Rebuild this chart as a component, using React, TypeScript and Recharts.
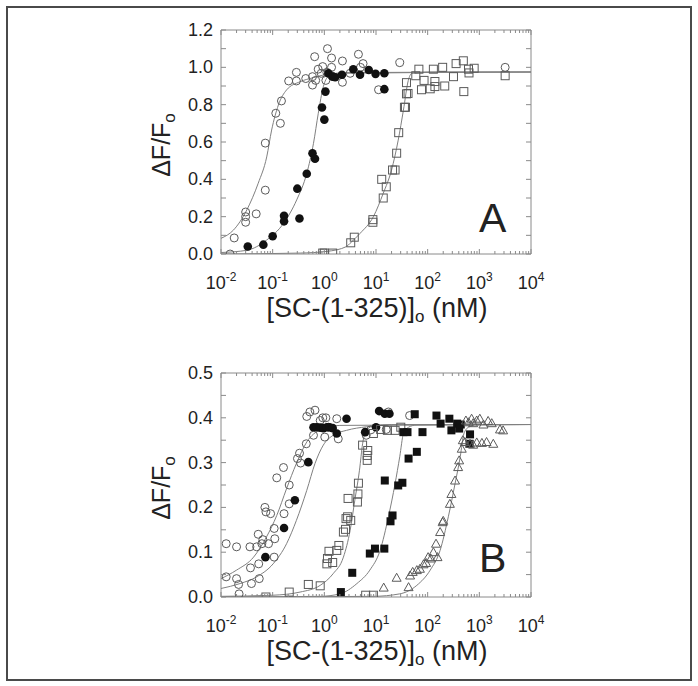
import { ComposedChart, Line, Scatter, XAxis, YAxis, ReferenceArea } from 'recharts'

// x values in nM, y values as ΔF/Fo
const decades = [0.01, 0.1, 1, 10, 100, 1000, 10000]
const exponents = ['-2', '-1', '0', '1', '2', '3', '4']
const minorSteps = [2, 3, 4, 5, 6, 7, 8, 9]
const yTicksA = [0, 0.1, 0.2, 0.3, 0.4, 0.5, 0.6, 0.7, 0.8, 0.9, 1.0, 1.1, 1.2]
const yTicksB = [0, 0.05, 0.1, 0.15, 0.2, 0.25, 0.3, 0.35, 0.4, 0.45, 0.5]

// panel A
const aOpenCircles: [number, number][] = [
  [0.015, 0.0], [0.018, 0.086], [0.03, 0.225], [0.03, 0.2], [0.03, 0.17], [0.048, 0.215],
  [0.072, 0.594], [0.072, 0.342], [0.115, 0.754], [0.141, 0.7], [0.148, 0.82], [0.204, 0.927],
  [0.288, 0.973], [0.288, 0.927], [0.437, 0.94], [0.59, 0.95], [0.65, 1.057], [0.59, 0.905],
  [0.68, 0.93], [0.76, 0.99], [0.93, 1.004], [1.12, 0.973], [0.87, 0.968], [1.15, 1.1],
  [1.38, 1.05], [1.38, 1.0], [1.07, 0.93], [2.24, 1.034], [2.24, 0.92], [1.38, 0.955],
  [4.57, 1.07], [5.62, 1.02], [3.16, 0.968], [5.0, 1.0], [11.2, 0.88], [28.8, 1.025], [3160, 1.0],
]
const aFilledCircles: [number, number][] = [
  [0.033, 0.04], [0.066, 0.05], [0.1, 0.095], [0.166, 0.205], [0.166, 0.175], [0.3, 0.35],
  [0.33, 0.19], [0.457, 0.43], [0.59, 0.54], [0.66, 0.51], [0.9, 0.785], [1.0, 0.72],
  [1.05, 0.87], [1.2, 0.968], [1.45, 0.95], [1.62, 0.947], [2.19, 0.96], [3.63, 0.99],
  [4.9, 0.96], [7.24, 0.986], [9.8, 0.965], [14.5, 0.968], [14.5, 0.883],
]
const aOpenSquares: [number, number][] = [
  [0.93, 0.005], [1.0, 0.005], [1.45, 0.005], [3.24, 0.06], [3.8, 0.09], [8.7, 0.184],
  [8.7, 0.17], [12.9, 0.4], [13.8, 0.3], [15.8, 0.36], [20.9, 0.45], [23.4, 0.45],
  [25.1, 0.54], [27.5, 0.65], [35.5, 0.786], [37.2, 0.786], [38.9, 0.858], [41.7, 0.86],
  [38.9, 0.918], [58.9, 0.955], [67.6, 0.99], [75.9, 0.88], [85.1, 0.93], [112, 0.885],
  [138, 0.897], [138, 0.924], [129, 0.99], [214, 0.9], [195, 1.0], [316, 0.95], [355, 1.02],
  [501, 0.87], [490, 1.035], [617, 0.99], [631, 0.97], [794, 0.995], [3160, 0.955],
]
const aFitOpen: [number, number][] = [
  [0.01, 0.084], [0.0174, 0.128], [0.0316, 0.236], [0.0525, 0.379], [0.0767, 0.52],
  [0.0955, 0.664], [0.129, 0.798], [0.186, 0.879], [0.339, 0.923], [0.617, 0.945],
  [1.0, 0.96], [3.16, 0.972], [10000, 0.975],
]
const aFitFilled: [number, number][] = [
  [0.01, 0.008], [0.0316, 0.02], [0.0767, 0.075], [0.162, 0.164], [0.292, 0.29],
  [0.457, 0.432], [0.617, 0.593], [0.764, 0.754], [0.955, 0.896], [1.19, 0.95],
  [2.0, 0.968], [10000, 0.975],
]
const aFitSquares: [number, number][] = [
  [0.01, 0.0], [0.34, 0.005], [1.12, 0.014], [2.69, 0.04], [3.14, 0.057], [4.9, 0.11],
  [8.9, 0.2], [13.8, 0.325], [20, 0.45], [26.9, 0.61], [33.9, 0.77], [42.2, 0.93],
  [49, 0.967], [100, 0.975], [10000, 0.975],
]

// panel B
const bOpenCircles: [number, number][] = [
  [0.0126, 0.119], [0.0126, 0.045], [0.02, 0.112], [0.02, 0.041], [0.0219, 0.028], [0.0224, 0.007],
  [0.0363, 0.112], [0.0372, 0.065], [0.0389, 0.03], [0.049, 0.112], [0.0525, 0.14], [0.0537, 0.074],
  [0.055, 0.041], [0.0617, 0.119], [0.0646, 0.128], [0.0708, 0.2], [0.0741, 0.19], [0.0832, 0.119],
  [0.0912, 0.186], [0.107, 0.153], [0.107, 0.089], [0.11, 0.13], [0.12, 0.266], [0.162, 0.289],
  [0.166, 0.186], [0.209, 0.208], [0.209, 0.25], [0.302, 0.309], [0.331, 0.321], [0.347, 0.299],
  [0.447, 0.342], [0.457, 0.403], [0.525, 0.413], [0.66, 0.417], [0.617, 0.361], [0.832, 0.394],
  [0.933, 0.4], [1.02, 0.357], [1.07, 0.4], [1.74, 0.398], [1.86, 0.353], [1.2, 0.379],
  [6.46, 0.361], [7.94, 0.373], [15.8, 0.374], [44.7, 0.405], [17.4, 0.413],
]
const bFilledCircles: [number, number][] = [
  [0.0724, 0.089], [0.166, 0.154], [0.269, 0.216], [0.49, 0.301], [0.617, 0.379], [0.708, 0.379],
  [0.832, 0.378], [0.955, 0.377], [1.12, 0.379], [1.26, 0.379], [1.45, 0.377], [1.74, 0.365],
  [2.69, 0.398], [6.17, 0.368], [10, 0.379], [11.5, 0.415], [14.8, 0.409], [18.2, 0.409],
]
const bOpenSquares: [number, number][] = [
  [0.074, 0.0], [0.209, 0.011], [0.49, 0.028], [0.832, 0.025], [1.12, 0.074], [1.45, 0.077],
  [1.15, 0.086], [1.23, 0.102], [1.74, 0.104], [1.91, 0.115], [2.34, 0.145], [2.57, 0.151],
  [2.63, 0.175], [2.82, 0.179], [2.88, 0.22], [3.24, 0.171], [4.37, 0.212], [4.47, 0.23],
  [4.57, 0.254], [5.5, 0.339], [6.92, 0.327], [6.76, 0.305], [6.76, 0.316], [8.91, 0.365],
  [12.3, 0.374], [16.6, 0.372], [23.4, 0.372], [30.2, 0.379], [8.91, 0.004], [6.31, 0.004],
]
const bFilledSquares: [number, number][] = [
  [2.09, 0.011], [3.47, 0.054], [7.59, 0.097], [9.55, 0.108], [14.5, 0.108], [14.8, 0.26],
  [19.1, 0.169], [20.9, 0.182], [26.9, 0.249], [32.4, 0.255], [33.9, 0.368], [40.7, 0.368],
  [42.7, 0.309], [61.7, 0.324], [56.2, 0.408], [79.4, 0.368], [148, 0.405], [178, 0.387],
  [263, 0.398], [288, 0.372], [372, 0.387], [407, 0.376], [437, 0.385], [661, 0.363], [646, 0.342],
]
const bOpenTriangles: [number, number][] = [
  [14.1, 0.021], [25.1, 0.043], [42.7, 0.022], [45.7, 0.048], [51.3, 0.056], [61.7, 0.06],
  [70.8, 0.063], [83.2, 0.073], [93.3, 0.076], [102, 0.089], [115, 0.086], [129, 0.1],
  [145, 0.119], [155, 0.089], [174, 0.145], [195, 0.167], [200, 0.17], [269, 0.208],
  [288, 0.23], [339, 0.26], [389, 0.29], [407, 0.305], [457, 0.331], [479, 0.35], [525, 0.346],
  [550, 0.394], [617, 0.39], [708, 0.398], [759, 0.388], [891, 0.394], [1023, 0.398],
  [1202, 0.385], [1479, 0.393], [1738, 0.388], [2884, 0.372], [661, 0.342], [759, 0.34],
  [891, 0.345], [1122, 0.344], [1380, 0.346], [1862, 0.342], [2512, 0.374],
]
const bFitOpen: [number, number][] = [
  [0.01, 0.041], [0.02, 0.06], [0.0427, 0.089], [0.0759, 0.134], [0.12, 0.182], [0.186, 0.242],
  [0.288, 0.298], [0.457, 0.346], [0.832, 0.373], [2.0, 0.383], [10000, 0.385],
]
const bFitFilled: [number, number][] = [
  [0.01, 0.019], [0.0234, 0.03], [0.049, 0.045], [0.102, 0.074], [0.186, 0.119], [0.288, 0.171],
  [0.457, 0.238], [0.66, 0.298], [0.955, 0.339], [1.48, 0.361], [2.69, 0.372], [6.6, 0.38],
  [21.9, 0.384], [10000, 0.385],
]
const bFitSquares: [number, number][] = [
  [0.01, 0.0015], [0.102, 0.004], [0.339, 0.011], [0.832, 0.026], [1.48, 0.052], [2.34, 0.089],
  [3.16, 0.149], [3.89, 0.216], [4.79, 0.283], [5.5, 0.342], [6.6, 0.372], [8.9, 0.382],
  [20, 0.385], [10000, 0.385],
]
const bFitFilledSquares: [number, number][] = [
  [0.01, 0.0], [0.832, 0.0015], [2.0, 0.007], [4.27, 0.03], [7.6, 0.06], [12, 0.104],
  [17.4, 0.179], [23.4, 0.253], [28.8, 0.313], [33.9, 0.364], [42.7, 0.379], [61.7, 0.384],
  [10000, 0.385],
]
const bFitTriangles: [number, number][] = [
  [0.01, 0.0], [8.9, 0.0015], [28.8, 0.007], [61.7, 0.026], [112, 0.06], [174, 0.104],
  [251, 0.179], [339, 0.253], [427, 0.313], [501, 0.364], [617, 0.379], [891, 0.384],
  [10000, 0.385],
]

const W = 698
const CH = 343
const PLOT_W = 310
const PLOT_H = 224
const FONT = '"Liberation Sans", Arial, Helvetica, sans-serif'
const axisColor = '#8a8a8a'
const markStroke = '#5a5a5a'
const curveColor = '#808080'
const textColor = '#222'

const xTicks = [
  ...decades,
  ...decades.slice(0, -1).flatMap((d) => minorSteps.map((m) => +(d * m).toPrecision(3))),
].sort((a, b) => a - b)

const toPts = (arr: [number, number][]) => arr.map(([x, y]) => ({ x, y }))

const OpenCircle = (p: any) => (
  <circle cx={p.cx} cy={p.cy} r={4} fill="none" stroke={markStroke} strokeWidth={1} />
)
const FilledCircle = (p: any) => <circle cx={p.cx} cy={p.cy} r={4.3} fill="#111" />
const OpenSquare = (p: any) => (
  <rect x={p.cx - 4} y={p.cy - 4} width={8} height={8} fill="none" stroke={markStroke} strokeWidth={1} />
)
const FilledSquare = (p: any) => <rect x={p.cx - 4} y={p.cy - 4} width={8} height={8} fill="#111" />
const OpenTriangle = (p: any) => (
  <polygon
    points={`${p.cx},${p.cy - 4.5} ${p.cx - 4.5},${p.cy + 3.5} ${p.cx + 4.5},${p.cy + 3.5}`}
    fill="none"
    stroke={markStroke}
    strokeWidth={1}
  />
)

function BottomTick(props: any) {
  const { x, y, payload } = props
  const i = decades.indexOf(payload.value)
  const len = i >= 0 ? 5 : 3
  return (
    <g>
      <line x1={x} x2={x} y1={y} y2={y - len} stroke={axisColor} />
      <line x1={x} x2={x} y1={y - PLOT_H} y2={y - PLOT_H + len} stroke={axisColor} />
      {i >= 0 && (
        <text x={x} y={y + 35} textAnchor="middle" fontSize={18} fill={textColor} fontFamily={FONT}>
          10
          <tspan dy={-8} fontSize={12}>
            {exponents[i]}
          </tspan>
        </text>
      )}
    </g>
  )
}

function LeftTick(props: any) {
  const { x, y, payload, step } = props
  const v = payload.value
  const major = Math.abs(v / step - Math.round(v / step)) < 1e-6
  return (
    <g>
      <line x1={x} x2={x + 5} y1={y} y2={y} stroke={axisColor} />
      <line x1={x + PLOT_W} x2={x + PLOT_W - 5} y1={y} y2={y} stroke={axisColor} />
      {major && (
        <text x={x - 8} y={y + 6} textAnchor="end" fontSize={18} fill={textColor} fontFamily={FONT}>
          {v.toFixed(1)}
        </text>
      )}
    </g>
  )
}

type Series = { data: [number, number][]; shape: (p: any) => any }

function Panel({
  yMax,
  yTicks,
  labelStep,
  series,
  fits,
}: {
  yMax: number
  yTicks: number[]
  labelStep: number
  series: Series[]
  fits: [number, number][][]
}) {
  return (
    <ComposedChart width={W} height={CH} margin={{ top: 30, right: 167, bottom: 29, left: 161 }}>
      <XAxis
        dataKey="x"
        type="number"
        scale="log"
        domain={[0.01, 10000]}
        allowDataOverflow
        ticks={xTicks}
        interval={0}
        height={60}
        tickSize={0}
        tickMargin={0}
        tickLine={false}
        axisLine={false}
        tick={<BottomTick />}
      />
      <YAxis
        dataKey="y"
        type="number"
        domain={[0, yMax]}
        allowDataOverflow
        ticks={yTicks}
        interval={0}
        width={60}
        tickSize={0}
        tickMargin={0}
        tickLine={false}
        axisLine={false}
        tick={<LeftTick step={labelStep} />}
      />
      <ReferenceArea x1={0.01} x2={10000} y1={0} y2={yMax} fill="none" stroke={axisColor} strokeWidth={1} />
      {fits.map((f, i) => (
        <Line
          key={'f' + i}
          data={toPts(f)}
          dataKey="y"
          type="monotone"
          stroke={curveColor}
          strokeWidth={1}
          dot={false}
          activeDot={false}
          isAnimationActive={false}
        />
      ))}
      {series.map((s, i) => (
        <Scatter key={'s' + i} data={toPts(s.data)} dataKey="y" shape={s.shape} isAnimationActive={false} />
      ))}
    </ComposedChart>
  )
}

function AxisTexts({ top, letter, letterY }: { top: number; letter: string; letterY: number }) {
  return (
    <g fontFamily={FONT} fill={textColor}>
      <text
        transform={`translate(170, ${top + 145}) rotate(-90)`}
        textAnchor="middle"
        fontSize={25}
      >
        ΔF/F
        <tspan fontSize={17} dy={5}>
          o
        </tspan>
      </text>
      <text x={377} y={top + 317} textAnchor="middle" fontSize={27}>
        [SC-(1-325)]
        <tspan fontSize={17} dy={5}>
          o
        </tspan>
        <tspan dy={-5}> (nM)</tspan>
      </text>
      <text x={479} y={top + letterY} fontSize={41}>
        {letter}
      </text>
    </g>
  )
}

export default function App() {
  return (
    <div style={{ position: 'absolute', left: 0, top: 0, width: W, height: 686, background: '#fff' }}>
      <div
        style={{
          position: 'absolute',
          left: 6,
          top: 6,
          width: 686,
          height: 675,
          border: '2px solid #4a4a4a',
          boxSizing: 'border-box',
        }}
      />
      <div style={{ position: 'absolute', left: 0, top: 0 }}>
        <Panel
          yMax={1.2}
          yTicks={yTicksA}
          labelStep={0.2}
          fits={[aFitOpen, aFitFilled, aFitSquares]}
          series={[
            { data: aOpenCircles, shape: OpenCircle },
            { data: aFilledCircles, shape: FilledCircle },
            { data: aOpenSquares, shape: OpenSquare },
          ]}
        />
      </div>
      <div style={{ position: 'absolute', left: 0, top: CH }}>
        <Panel
          yMax={0.5}
          yTicks={yTicksB}
          labelStep={0.1}
          fits={[bFitOpen, bFitFilled, bFitSquares, bFitFilledSquares, bFitTriangles]}
          series={[
            { data: bOpenCircles, shape: OpenCircle },
            { data: bFilledCircles, shape: FilledCircle },
            { data: bOpenSquares, shape: OpenSquare },
            { data: bFilledSquares, shape: FilledSquare },
            { data: bOpenTriangles, shape: OpenTriangle },
          ]}
        />
      </div>
      <svg width={W} height={686} style={{ position: 'absolute', left: 0, top: 0, pointerEvents: 'none' }}>
        <AxisTexts top={0} letter="A" letterY={232} />
        <AxisTexts top={CH} letter="B" letterY={229} />
      </svg>
    </div>
  )
}
